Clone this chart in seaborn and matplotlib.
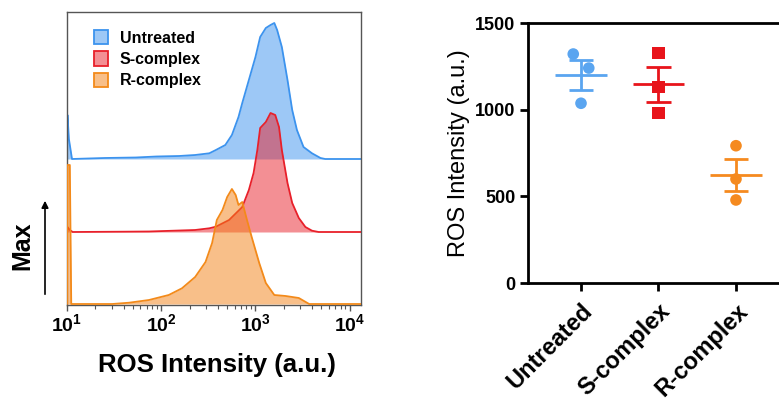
import numpy as np
import pandas as pd
import matplotlib
matplotlib.use("Agg")
import matplotlib.pyplot as plt
import matplotlib.patches as mpatches
import seaborn as sns

sns.set_style("ticks")
plt.rcParams['font.family'] = ['Liberation Sans', 'DejaVu Sans']
plt.rcParams['mathtext.fontset'] = 'custom'
plt.rcParams['mathtext.bf'] = 'Liberation Sans:bold'
plt.rcParams['mathtext.rm'] = 'Liberation Sans'
plt.rcParams['text.color'] = 'black'
plt.rcParams['axes.labelcolor'] = 'black'
plt.rcParams['xtick.color'] = 'black'
plt.rcParams['ytick.color'] = 'black'

# ---------------- data: flow cytometry histograms (log10 intensity, counts) ----------
groups = ["Untreated", "S-complex", "R-complex"]

untreated_log = [1.00, 1.005, 1.02, 1.053, 1.40, 1.73, 1.95, 2.19, 2.36, 2.51, 2.58, 2.68, 2.75,
                 2.82, 2.86, 2.93, 3.00, 3.05, 3.11, 3.16, 3.20, 3.23, 3.28, 3.34, 3.39,
                 3.44, 3.51, 3.60, 3.69, 3.74, 4.15]
untreated_cnt = [0, 44, 20, 0, 1, 1.5, 2.5, 3, 4, 5.7, 9, 14, 24,
                 42, 56, 79, 102, 122, 131, 134, 136, 129, 112, 79, 49,
                 29, 12, 5.7, 1, 0, 0]

scomplex_log = [1.00, 1.005, 1.03, 1.06, 1.60, 1.87, 2.10, 2.36, 2.51, 2.58, 2.72, 2.86, 2.93,
                2.98, 3.02, 3.05, 3.11, 3.16, 3.21, 3.25, 3.28, 3.34, 3.39, 3.46, 3.53,
                3.60, 3.67, 4.15]
scomplex_cnt = [0, 5, 2, 0, 0.3, 0.5, 1.2, 2, 3.7, 5.3, 12, 25, 42,
                59, 82, 104, 110, 119, 117, 105, 82, 49, 29, 14, 5,
                1.3, 0, 0]

rcomplex_log = [1.00, 1.005, 1.03, 1.045, 1.40, 1.48, 1.66, 1.87, 2.08, 2.22, 2.36, 2.47, 2.54,
                2.59, 2.65, 2.70, 2.75, 2.79, 2.82, 2.86, 2.91, 2.96, 3.04, 3.11, 3.20,
                3.32, 3.46, 3.57, 4.15]
rcomplex_cnt = [0, 139, 139, 0, 0, 0, 1.3, 4, 9, 15.7, 27, 42, 61,
                84, 94, 107, 115, 109, 99, 102, 84, 67, 41, 21, 9,
                8, 6, 0, 0]

# ---------------- data: ROS intensity replicates ----------------
ros_untreated = [1321, 1240, 1037]
ros_scomplex = [1325, 1133, 979]
ros_rcomplex = [792, 600, 479]

xtick_values = [10, 100, 1000, 10000]
xtick_labels = [r"$\mathbf{10^{1}}$", r"$\mathbf{10^{2}}$", r"$\mathbf{10^{3}}$", r"$\mathbf{10^{4}}$"]
ytick_values = [0, 500, 1000, 1500]

# ---------------- styles ----------------
line_colors = ["#3C93EE", "#E8202A", "#F38A1A"]
fill_colors = ["#3C93EE", "#E8202A", "#F38115"]
point_colors = ["#5AA5F0", "#E8141B", "#F58A1F"]
markers = ["o", "s", "o"]
baselines = [146, 73, 1]
point_dx = [[-0.10, 0.10, 0.0], [0.0, 0.0, 0.0], [0.0, 0.0, 0.0]]

W, H = 779, 403
fig = plt.figure(figsize=(W / 100, H / 100), dpi=100)
fig.patch.set_facecolor("white")

# ---------------- left panel ----------------
ax1 = fig.add_axes([67 / W, 1 - 305 / H, 294 / W, 293 / H])
hist_logs = [untreated_log, scomplex_log, rcomplex_log]
hist_cnts = [untreated_cnt, scomplex_cnt, rcomplex_cnt]
for i, g in enumerate(groups):
    xs = 10 ** np.asarray(hist_logs[i])
    ys = np.asarray(hist_cnts[i]) + baselines[i]
    ax1.fill_between(xs, baselines[i], ys, color=fill_colors[i], alpha=0.5, lw=0, zorder=2 + i)
    sns.lineplot(x=xs, y=ys, ax=ax1, color=line_colors[i], lw=1.3, sort=False,
                 estimator=None, zorder=2.5 + i)

ax1.set_xscale("log")
ax1.set_xlim(10, 10 ** 4.12)
ax1.set_ylim(0, 293)
ax1.set_yticks([])
ax1.set_xticks(xtick_values)
ax1.set_xticklabels(xtick_labels, fontsize=14)
ax1.tick_params(axis="x", which="major", length=4, width=1, color="#555555", pad=2)
ax1.tick_params(axis="x", which="minor", length=3, width=0.8, color="#555555")
for sp in ax1.spines.values():
    sp.set_visible(True)
    sp.set_color("#555555")
    sp.set_linewidth(1.0)
ax1.set_xlabel("ROS Intensity (a.u.)", fontsize=18.5, fontweight="bold")
ax1.xaxis.set_label_coords(0.51, -0.165)

handles = [mpatches.Patch(facecolor=matplotlib.colors.to_rgba(fill_colors[i], 0.5),
                          edgecolor=line_colors[i], lw=1.3) for i in range(3)]
leg = ax1.legend(handles, groups, loc="upper left", bbox_to_anchor=(0.07, 0.96), frameon=False,
                 prop={"weight": "bold", "size": 11.5}, handlelength=0.9, handleheight=1.0,
                 handletextpad=0.7, labelspacing=0.35, borderaxespad=0)

fig.text(22 / W, 1 - 246 / H, "Max", rotation=90, fontsize=18, fontweight="bold",
         ha="center", va="center")
fig.add_artist(mpatches.FancyArrowPatch((45 / W, 1 - 297 / H), (45 / W, 1 - 198 / H),
                                        transform=fig.transFigure, arrowstyle="-|>",
                                        mutation_scale=10, lw=1.2, color="black"))

# ---------------- right panel ----------------
ax2 = fig.add_axes([528 / W, 1 - 283 / H, 272 / W, 260 / H])
ros_values = [ros_untreated, ros_scomplex, ros_rcomplex]
for i, g in enumerate(groups):
    vals = np.asarray(ros_values[i], dtype=float)
    xpos = i + np.asarray(point_dx[i])
    df = pd.DataFrame({"x": xpos, "y": vals})
    mean = vals.mean()
    sem = vals.std(ddof=1) / np.sqrt(len(vals))
    ax2.hlines(mean, i - 0.33, i + 0.33, color=point_colors[i], lw=2, zorder=3)
    ax2.vlines(i, mean - sem, mean + sem, color=point_colors[i], lw=2, zorder=3)
    ax2.hlines([mean - sem, mean + sem], i - 0.16, i + 0.16, color=point_colors[i], lw=2, zorder=3)
    sns.scatterplot(data=df, x="x", y="y", ax=ax2, color=point_colors[i], marker=markers[i],
                    s=70 if markers[i] == "o" else 75, edgecolor="none", linewidth=0, zorder=4)

ax2.set_xlim(-0.684, 2.826)
ax2.set_ylim(0, 1500)
ax2.set_yticks(ytick_values)
ax2.set_yticklabels([str(v) for v in ytick_values], fontsize=13, fontweight="bold")
ax2.set_xticks(range(len(groups)))
ax2.set_xticklabels(groups, rotation=45, ha="right", rotation_mode="anchor",
                    fontsize=17, fontweight="bold")
ax2.tick_params(axis="both", length=6, width=2, color="black")
ax2.tick_params(axis="y", pad=3)
ax2.tick_params(axis="x", pad=6)
for sp in ax2.spines.values():
    sp.set_visible(True)
    sp.set_color("black")
    sp.set_linewidth(2)
ax2.set_xlabel("")
ax2.set_ylabel("ROS Intensity (a.u.)", fontsize=17, color="black")
ax2.yaxis.set_label_coords(-0.215, 0.5)

fig.savefig("out.png", dpi=100, facecolor="white")
